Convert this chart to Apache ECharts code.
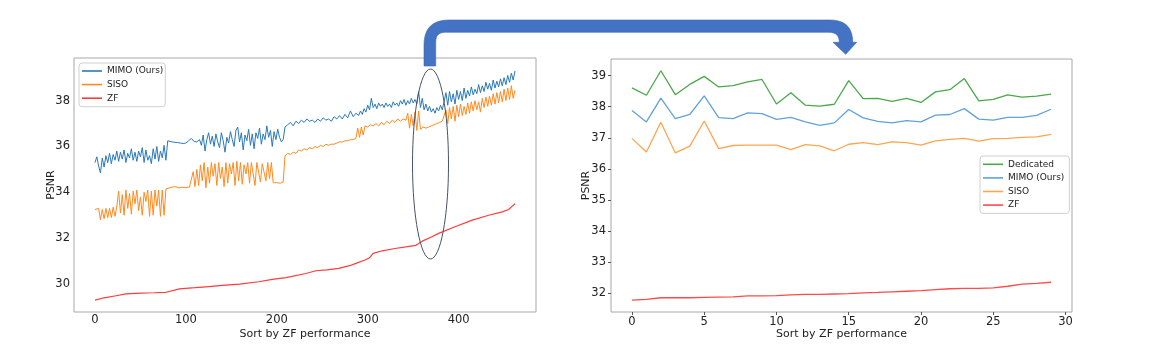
<!DOCTYPE html>
<html>
<head>
<meta charset="utf-8">
<script src="https://cdn.jsdelivr.net/npm/echarts@6/dist/echarts.min.js"></script>
<style>
  html, body { margin: 0; padding: 0; background: #fff; }
  #chart { width: 1152px; height: 348px; }
</style>
</head>
<body>
<div id="chart"></div>
<script>
// left panel: [rank by ZF, PSNR]
var mimoLeft = [
  [0,35.3],[2,35.55],[4,35.15],[6,34.85],[8,35.5],[10,35.1],[12,35.6],[14,35.3],[16,35.7],[18,35.25],
  [20,35.65],[22,35.4],[24,35.8],[26,35.35],[28,35.75],[30,35.45],[32,35.85],[34,35.3],[36,35.7],[38,35.5],
  [40,35.9],[42,35.4],[44,35.75],[46,35.35],[48,35.8],[50,35.55],[52,35.95],[54,35.3],[56,35.85],[58,35.4],
  [60,35.6],[62,35.25],[64,35.9],[66,35.45],[68,36.0],[70,35.35],[72,35.8],[74,35.5],[76,36.05],[78,35.4],
  [80,36.25],[82,36.22],[85,36.2],[88,36.18],[91,36.17],[94,36.15],[97,36.13],[100,36.15],[103,36.25],[106,36.35],
  [109,36.22],[112,36.2],[115,36.3],[117,36.05],
  [119,36.5],[121,35.8],[123,36.3],[125,36.6],[127,36.1],[129,36.45],[131,36.0],[133,36.55],[135,36.2],[137,35.95],
  [139,36.6],[141,36.25],[143,35.75],[145,36.4],[147,36.15],[149,36.65],[151,36.3],[153,36.0],[155,36.7],[157,36.85],
  [159,36.2],[161,36.6],[163,35.85],[165,36.5],[167,36.25],[169,36.75],[171,36.05],[173,36.55],[175,35.9],[177,36.6],
  [179,36.35],[181,36.8],[183,36.1],[185,36.55],[187,36.3],[189,36.9],[191,36.4],[193,36.7],[195,36.0],[197,36.65],
  [199,36.3],[201,36.75],[203,36.4],[205,36.2],[207,36.3],[209,36.85],
  [212,36.95],[215,37.05],[218,36.9],[221,37.1],[224,37.0],[227,37.15],[230,37.05],[233,37.2],[236,37.1],[239,37.15],
  [242,37.05],[245,37.2],[248,37.1],[251,37.25],[254,37.15],[257,37.2],[260,37.1],[263,37.3],[266,37.2],[269,37.35],
  [272,37.2],[275,37.4],[278,37.25],[281,37.55],[284,37.3],[287,37.45],[290,37.35],
  [292,37.55],[294,37.4],[296,37.65],[298,37.5],[300,37.8],[302,37.6],[304,38.1],[306,37.7],[308,37.85],[310,37.65],
  [312,37.9],[314,37.75],[316,37.85],[318,37.7],[320,37.9],[322,37.75],[324,37.85],[326,37.7],[328,37.95],[330,37.8],
  [332,37.9],[334,37.75],[336,38.0],[338,37.85],[340,38.05],[342,37.8],[344,38.0],[346,37.85],[348,38.1],[350,37.9],
  [352,38.05],[354,37.85],[356,38.4],[358,37.7],[360,38.1],[362,37.6],[364,37.85],[366,37.55],[368,37.75],[370,37.5],
  [372,37.65],[374,37.45],[376,37.7],[378,37.55],[380,37.8],[382,37.6],[384,37.95],
  [386,38.35],[388,37.8],[390,38.4],[392,37.95],[394,38.3],[396,37.85],[398,38.45],[400,38.05],[402,38.4],[404,38.0],
  [406,38.55],[408,38.1],[410,38.45],[412,38.2],[414,38.6],[416,38.25],[418,38.5],[420,38.3],[422,38.7],[424,38.35],
  [426,38.65],[428,38.4],[430,38.8],[432,38.5],[434,38.75],[436,38.45],[438,38.9],[440,38.55],[442,38.85],[444,38.6],
  [446,38.95],[448,38.65],[450,39.0],[452,38.7],[454,39.1],[456,38.8],[458,39.2],[460,38.9],[462,39.3]
];
var sisoLeft = [
  [0,33.25],[2,33.2],[4,33.3],[6,32.8],[8,33.25],[10,32.85],[12,33.3],[14,32.9],[16,33.3],[18,32.9],
  [20,33.35],[22,32.95],[24,33.4],[26,34.05],[28,33.1],[30,33.9],[32,33.0],[34,34.1],[36,33.3],[38,33.95],
  [40,33.05],[42,34.05],[44,33.5],[46,34.1],[48,33.2],[50,33.8],[52,33.0],[54,34.0],[56,33.6],[58,34.1],
  [60,32.95],[62,34.05],[64,33.0],[66,34.1],[68,33.4],[70,34.1],[72,32.95],[74,34.1],[76,33.0],[78,34.15],
  [80,34.2],[84,34.22],[88,34.25],[92,34.2],[96,34.22],[100,34.2],[104,34.24],[106,34.3],
  [108,34.9],[110,34.25],[112,35.0],[114,34.3],[116,35.2],[118,34.5],[120,35.3],[122,34.2],[124,35.1],[126,34.4],
  [128,35.3],[130,34.7],[132,35.25],[134,34.3],[136,35.3],[138,34.6],[140,35.1],[142,34.25],[144,35.3],[146,34.4],
  [148,35.25],[150,34.8],[152,35.3],[154,34.3],[156,35.35],[158,34.5],[160,35.3],[162,34.35],[164,35.2],[166,34.8],
  [168,35.3],[170,34.4],[172,35.3],[174,35.25],[176,34.3],[178,35.3],[180,35.3],[182,34.45],[184,35.25],[186,35.3],
  [188,34.5],[190,35.3],[192,34.6],[194,35.3],[196,34.42],[200,34.42],[204,34.4],[207,34.45],[209,35.6],
  [212,35.7],[215,35.65],[218,35.75],[221,35.7],[224,35.85],[227,35.8],[230,35.9],[233,35.85],[236,35.95],[239,35.9],
  [242,36.0],[245,35.95],[248,36.05],[251,36.0],[254,36.1],[257,36.05],[260,36.1],[263,36.1],[266,36.15],[269,36.2],
  [272,36.2],[275,36.25],[278,36.25],[281,36.3],[284,36.3],[287,36.35],[289,36.8],[291,36.4],[293,36.85],[295,36.5],
  [297,36.9],[300,36.85],[303,36.95],[306,36.9],[309,37.0],[312,36.9],[315,37.05],[318,36.95],[321,37.1],[324,37.0],
  [327,37.15],[330,37.05],[333,37.2],[336,37.1],[339,37.2],[342,37.15],[344,37.45],[346,36.8],[348,37.4],[350,36.9],
  [352,37.5],[354,36.7],[356,37.55],[358,36.75],[361,36.85],[364,36.8],[367,36.85],[370,36.9],[373,36.95],[376,37.0],
  [379,37.05],[382,37.1],[384,37.15],
  [386,37.6],[388,37.0],[390,37.7],[392,37.2],[394,37.75],[396,37.1],[398,37.8],[400,37.3],[402,37.85],[404,37.35],
  [406,37.75],[408,37.4],[410,37.9],[412,37.45],[414,37.95],[416,37.55],[418,38.0],[420,37.6],[422,37.95],[424,37.5],
  [426,38.1],[428,37.7],[430,38.15],[432,37.75],[434,38.2],[436,37.8],[438,38.3],[440,37.85],[442,38.35],[444,37.9],
  [446,38.4],[448,37.95],[450,38.5],[452,38.0],[454,38.55],[456,38.05],[458,38.65],[460,38.1],[462,38.45]
];
var zfLeft = [
  [0,29.3],[10,29.4],[23,29.49],[34,29.57],[50,29.6],[65,29.62],[78,29.64],[93,29.79],[110,29.84],[122,29.88],
  [140,29.94],[159,30.0],[180,30.1],[195,30.2],[210,30.28],[232,30.46],[243,30.58],[255,30.62],[268,30.68],[280,30.8],
  [287,30.9],[297,31.05],[302,31.15],[306,31.34],[316,31.45],[330,31.55],[342,31.62],[353,31.69],[360,31.87],[370,32.05],
  [378,32.21],[396,32.5],[415,32.79],[433,33.0],[448,33.15],[455,33.25],[459,33.4],[462,33.5]
];

// right panel: 30 samples from the circled region
var zoomIdx = [0,1,2,3,4,5,6,7,8,9,10,11,12,13,14,15,16,17,18,19,20,21,22,23,24,25,26,27,28,29];
var dedicated = [38.61,38.37,39.16,38.39,38.72,38.98,38.64,38.68,38.8,38.88,38.09,38.45,38.05,38.02,38.08,
  38.84,38.26,38.27,38.17,38.27,38.14,38.48,38.55,38.91,38.19,38.24,38.38,38.31,38.34,38.41];
var mimoRight = [37.88,37.51,38.28,37.62,37.75,38.35,37.65,37.62,37.8,37.78,37.59,37.66,37.51,37.4,37.48,
  37.91,37.64,37.53,37.48,37.55,37.51,37.73,37.75,37.94,37.6,37.57,37.66,37.66,37.72,37.92];
var sisoRight = [36.98,36.54,37.5,36.51,36.73,37.54,36.65,36.75,36.76,36.76,36.76,36.62,36.78,36.74,36.58,
  36.79,36.84,36.78,36.87,36.84,36.76,36.9,36.95,36.98,36.89,36.97,36.98,37.01,37.03,37.11];
var zfRight = [31.76,31.79,31.84,31.84,31.84,31.85,31.86,31.87,31.9,31.9,31.91,31.93,31.95,31.95,31.96,
  31.97,32.0,32.01,32.03,32.05,32.07,32.1,32.13,32.14,32.14,32.16,32.21,32.28,32.3,32.34];

var xTicksLeft = [0, 100, 200, 300, 400];
var yTicksLeft = [30, 32, 34, 36, 38];
var xTicksRight = [0, 5, 10, 15, 20, 25, 30];
var yTicksRight = [32, 33, 34, 35, 36, 37, 38, 39];

var FONT = 'DejaVu Sans';
var colLeft = { mimo: '#2a7ab8', siso: '#ff8a1f', zf: '#ff3b3b' };
var colRight = { ded: '#4aa84a', mimo: '#62a2d8', siso: '#ffa550', zf: '#ff4a4a' };

function pairs(xs, ys) {
  return xs.map(function (x, i) { return [x, ys[i]]; });
}

function xAxisOf(grid, min, max, ticks, tickLen, margin) {
  return {
    type: 'value', gridIndex: grid, min: min, max: max,
    name: 'Sort by ZF performance', nameLocation: 'middle', nameGap: 17, nameMoveOverlap: false,
    nameTextStyle: { fontFamily: FONT, fontSize: 11, color: '#222' },
    axisLine: { show: false, onZero: false },
    splitLine: { show: false },
    axisTick: { show: tickLen > 0, length: tickLen, customValues: ticks, lineStyle: { color: '#555' } },
    axisLabel: { customValues: ticks, margin: margin, fontFamily: FONT, fontSize: 11.5, color: '#222' }
  };
}
function yAxisOf(grid, min, max, ticks, tickLen, margin, gap) {
  return {
    type: 'value', gridIndex: grid, min: min, max: max,
    name: 'PSNR', nameLocation: 'middle', nameGap: gap, nameRotate: 90, nameMoveOverlap: false,
    nameTextStyle: { fontFamily: FONT, fontSize: 11, color: '#222' },
    axisLine: { show: false, onZero: false },
    splitLine: { show: false },
    axisTick: { show: tickLen > 0, length: tickLen, customValues: ticks, lineStyle: { color: '#555' } },
    axisLabel: { customValues: ticks, margin: margin, fontFamily: FONT, fontSize: 11.5, color: '#222' }
  };
}
function line(name, grid, data, color, width) {
  return {
    name: name, type: 'line', xAxisIndex: grid, yAxisIndex: grid, data: data,
    symbol: 'none', showSymbol: false, silent: true,
    lineStyle: { color: color, width: width }, itemStyle: { color: color }
  };
}
function legendItem(name, color) {
  return { name: name, itemStyle: { color: color } };
}
var legendBase = {
  orient: 'vertical', icon: 'rect', itemWidth: 20, itemHeight: 1.6, itemGap: 3.6,
  backgroundColor: '#fff', borderColor: '#d0d0d0', borderWidth: 1, borderRadius: 3,
  textStyle: { fontFamily: FONT, fontSize: 9, color: '#222', lineHeight: 10 },
  selectedMode: false
};

// outline of the bent arrow (screen pixels), corners as quadratic curves
function quad(p0, c, p1, n) {
  var out = [];
  for (var i = 1; i <= n; i++) {
    var t = i / n, u = 1 - t;
    out.push([u * u * p0[0] + 2 * u * t * c[0] + t * t * p1[0],
              u * u * p0[1] + 2 * u * t * c[1] + t * t * p1[1]]);
  }
  return out;
}
var arrowPts = [[424, 66], [424, 45]]
  .concat(quad([424, 45], [424, 20], [449, 20], 10))
  .concat([[830, 20]])
  .concat(quad([830, 20], [852.7, 20], [852.7, 42.3], 10))
  .concat([[856.7, 42.3], [845.7, 54.3], [833, 42.3], [839.3, 42.3]])
  .concat(quad([839.3, 42.3], [839.3, 32.3], [829, 32.3], 8))
  .concat([[445, 32.3]])
  .concat(quad([445, 32.3], [435.7, 32.3], [435.7, 42], 8))
  .concat([[435.7, 66]]);

var myChart = echarts.init(document.getElementById('chart'), null, { renderer: 'canvas' });
var option = {
  animation: false,
  backgroundColor: '#fff',
  grid: [
    { left: 74, top: 58, width: 462, height: 254, show: true, borderColor: '#a8a8a8', borderWidth: 1 },
    { left: 611, top: 59, width: 461, height: 253, show: true, borderColor: '#a8a8a8', borderWidth: 1 }
  ],
  xAxis: [
    xAxisOf(0, -23.1, 485.1, xTicksLeft, 0, 2),
    xAxisOf(1, -1.45, 30.45, xTicksRight, 3, 4)
  ],
  yAxis: [
    yAxisOf(0, 28.78, 39.86, yTicksLeft, 0, 4, 17),
    yAxisOf(1, 31.38, 39.54, yTicksRight, 3, 5, 19)
  ],
  legend: [
    Object.assign({}, legendBase, {
      left: 79, top: 63, padding: [3, 2, 3.5, 3],
      data: [legendItem('MIMO (Ours)', colLeft.mimo), legendItem('SISO', colLeft.siso), legendItem('ZF', colLeft.zf)]
    }),
    Object.assign({}, legendBase, {
      left: 980, top: 156, padding: [3.3, 5, 3.3, 3],
      data: [legendItem('Dedicated', colRight.ded), legendItem('MIMO (Ours)', colRight.mimo),
             legendItem('SISO', colRight.siso), legendItem('ZF', colRight.zf)]
    })
  ],
  series: [
    line('MIMO (Ours)', 0, mimoLeft, colLeft.mimo, 1),
    line('SISO', 0, sisoLeft, colLeft.siso, 1),
    line('ZF', 0, zfLeft, colLeft.zf, 1.2),
    line('Dedicated', 1, pairs(zoomIdx, dedicated), colRight.ded, 1.3),
    line('MIMO (Ours)', 1, pairs(zoomIdx, mimoRight), colRight.mimo, 1.3),
    line('SISO', 1, pairs(zoomIdx, sisoRight), colRight.siso, 1.3),
    line('ZF', 1, pairs(zoomIdx, zfRight), colRight.zf, 1.3)
  ],
  graphic: [
    // circled region on the left panel
    { type: 'ellipse', z: 100, shape: { cx: 430.5, cy: 164, rx: 18, ry: 95 },
      style: { fill: null, stroke: '#44546a', lineWidth: 1 } },
    // bent arrow to the zoomed panel
    { type: 'polygon', z: 101, shape: { points: arrowPts },
      style: { fill: '#4472c4', stroke: '#3d67b3', lineWidth: 0.6 } }
  ]
};

option && myChart.setOption(option);
</script>
</body>
</html>
